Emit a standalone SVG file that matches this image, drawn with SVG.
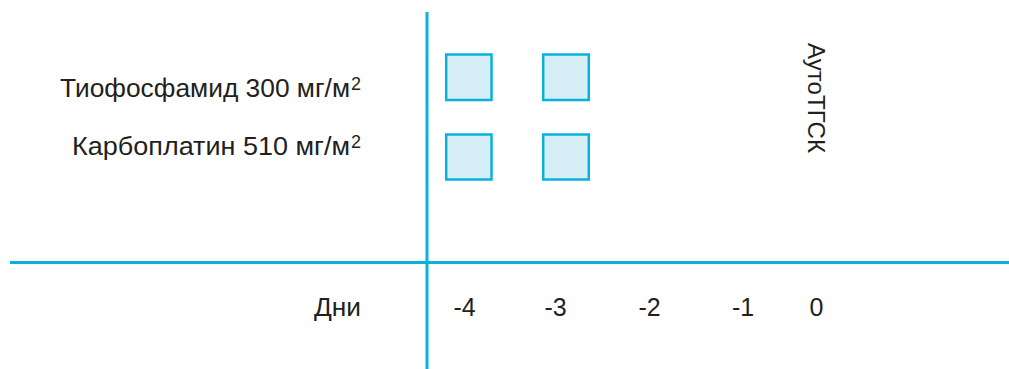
<svg xmlns="http://www.w3.org/2000/svg" width="1009" height="369" viewBox="0 0 1009 369">
<style>
.ax{stroke:#0ab1dd;stroke-width:3;fill:none}
.box{fill:#d6eef6;stroke:#0ab1dd;stroke-width:2.5}
.t{font-family:"Liberation Sans",Arial,sans-serif;font-size:25px;fill:#231f20}
.sup{font-size:18px}
</style>
<rect width="1009" height="369" fill="#ffffff"/>
<g id="axes">
<line class="ax" x1="427" y1="12" x2="427" y2="369"/>
<line class="ax" x1="10" y1="262.5" x2="1009" y2="262.5"/>
</g>
<g id="labels">
<text class="t" x="60" y="97" textLength="290" lengthAdjust="spacingAndGlyphs">Тиофосфамид 300 мг/м</text>
<text class="t sup" x="351" y="90">2</text>
<text class="t" x="72" y="155" textLength="278" lengthAdjust="spacingAndGlyphs">Карбоплатин 510 мг/м</text>
<text class="t sup" x="351" y="148">2</text>
<text class="t" x="314" y="316" textLength="47" lengthAdjust="spacingAndGlyphs">Дни</text>
<text class="t" x="464.5" y="316" text-anchor="middle">-4</text>
<text class="t" x="555.5" y="316" text-anchor="middle">-3</text>
<text class="t" x="649.5" y="316" text-anchor="middle">-2</text>
<text class="t" x="743" y="316" text-anchor="middle">-1</text>
<text class="t" x="816.5" y="316" text-anchor="middle">0</text>
<text class="t" transform="translate(808,43) rotate(90)" style="font-size:23.5px" textLength="110" lengthAdjust="spacingAndGlyphs">АутоТГСК</text>
</g>
<g id="box-1"><rect class="box" x="446.2" y="54.5" width="45.3" height="45.5"/></g>
<g id="box-2"><rect class="box" x="543.2" y="54.5" width="45.6" height="45.5"/></g>
<g id="box-3"><rect class="box" x="446.2" y="134.5" width="45.3" height="45"/></g>
<g id="box-4"><rect class="box" x="543.2" y="134.5" width="45.6" height="45"/></g>
</svg>
